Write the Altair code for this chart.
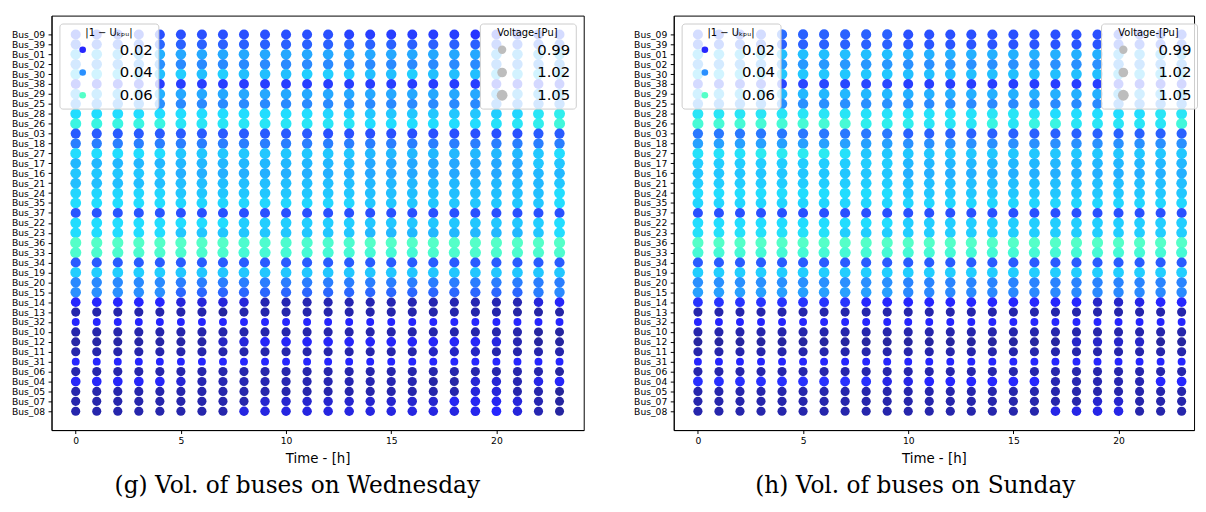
import altair as alt
import pandas as pd

buses = ["Bus_09", "Bus_39", "Bus_01", "Bus_02", "Bus_30", "Bus_38", "Bus_29", "Bus_25", "Bus_28", "Bus_26",
         "Bus_03", "Bus_18", "Bus_27", "Bus_17", "Bus_16", "Bus_21", "Bus_24", "Bus_35", "Bus_37", "Bus_22",
         "Bus_23", "Bus_36", "Bus_33", "Bus_34", "Bus_19", "Bus_20", "Bus_15", "Bus_14", "Bus_13", "Bus_32",
         "Bus_10", "Bus_12", "Bus_11", "Bus_31", "Bus_06", "Bus_04", "Bus_05", "Bus_07", "Bus_08"]
hours = [0, 1, 2, 3, 4, 5, 6, 7, 8, 9, 10, 11, 12, 13, 14, 15, 16, 17, 18, 19, 20, 21, 22, 23]

# Bus voltages [pu], one row per bus (order of `buses`), one value per hour
wednesday = [
    [1.028, 1.028, 1.028, 1.028, 1.029, 1.029, 1.029, 1.029, 1.029, 1.029, 1.029, 1.029, 1.029, 1.026, 1.025, 1.025, 1.025, 1.025, 1.025, 1.023, 1.026, 1.027, 1.028, 1.028],  # 09
    [1.033, 1.033, 1.033, 1.033, 1.033, 1.032, 1.032, 1.032, 1.032, 1.032, 1.032, 1.032, 1.032, 1.032, 1.032, 1.032, 1.032, 1.032, 1.032, 1.032, 1.032, 1.032, 1.033, 1.033],  # 39
    [1.045, 1.045, 1.044, 1.044, 1.044, 1.043, 1.043, 1.043, 1.043, 1.043, 1.043, 1.043, 1.043, 1.043, 1.043, 1.043, 1.043, 1.043, 1.043, 1.043, 1.043, 1.043, 1.044, 1.045],  # 01
    [1.040, 1.040, 1.040, 1.040, 1.040, 1.039, 1.039, 1.039, 1.039, 1.039, 1.039, 1.039, 1.039, 1.039, 1.039, 1.039, 1.039, 1.039, 1.039, 1.039, 1.039, 1.039, 1.039, 1.040],  # 02
    [1.047, 1.047, 1.047, 1.047, 1.046, 1.048, 1.046, 1.048, 1.046, 1.046, 1.046, 1.048, 1.048, 1.048, 1.046, 1.046, 1.048, 1.046, 1.046, 1.046, 1.046, 1.046, 1.047, 1.047],  # 30
    [1.025, 1.025, 1.025, 1.025, 1.025, 1.025, 1.025, 1.025, 1.025, 1.025, 1.025, 1.025, 1.025, 1.025, 1.025, 1.025, 1.025, 1.025, 1.025, 1.025, 1.025, 1.025, 1.025, 1.025],  # 38
    [1.044, 1.044, 1.044, 1.044, 1.044, 1.043, 1.043, 1.043, 1.043, 1.043, 1.043, 1.043, 1.043, 1.043, 1.043, 1.043, 1.043, 1.043, 1.043, 1.043, 1.043, 1.043, 1.043, 1.043],  # 29
    [1.040, 1.040, 1.040, 1.040, 1.040, 1.039, 1.039, 1.039, 1.039, 1.039, 1.039, 1.039, 1.039, 1.039, 1.039, 1.039, 1.039, 1.039, 1.039, 1.039, 1.039, 1.039, 1.039, 1.039],  # 25
    [1.050, 1.050, 1.050, 1.050, 1.050, 1.050, 1.050, 1.050, 1.050, 1.050, 1.050, 1.050, 1.049, 1.048, 1.047, 1.047, 1.047, 1.047, 1.047, 1.047, 1.048, 1.049, 1.052, 1.054],  # 28
    [1.056, 1.056, 1.056, 1.056, 1.056, 1.052, 1.052, 1.052, 1.052, 1.052, 1.052, 1.052, 1.052, 1.052, 1.050, 1.050, 1.050, 1.050, 1.050, 1.050, 1.051, 1.052, 1.054, 1.057],  # 26
    [1.031, 1.031, 1.031, 1.031, 1.031, 1.031, 1.031, 1.031, 1.031, 1.031, 1.031, 1.031, 1.029, 1.029, 1.029, 1.029, 1.029, 1.029, 1.029, 1.029, 1.029, 1.029, 1.031, 1.031],  # 03
    [1.037, 1.037, 1.037, 1.037, 1.037, 1.037, 1.037, 1.037, 1.037, 1.037, 1.037, 1.037, 1.037, 1.037, 1.037, 1.037, 1.037, 1.037, 1.037, 1.037, 1.037, 1.037, 1.037, 1.037],  # 18
    [1.050, 1.050, 1.050, 1.050, 1.050, 1.047, 1.047, 1.047, 1.047, 1.047, 1.047, 1.047, 1.047, 1.047, 1.045, 1.045, 1.045, 1.045, 1.045, 1.045, 1.045, 1.045, 1.047, 1.050],  # 27
    [1.045, 1.045, 1.045, 1.045, 1.045, 1.045, 1.045, 1.045, 1.045, 1.045, 1.045, 1.045, 1.045, 1.045, 1.043, 1.043, 1.043, 1.043, 1.043, 1.043, 1.043, 1.043, 1.047, 1.047],  # 17
    [1.047, 1.047, 1.047, 1.047, 1.047, 1.044, 1.044, 1.044, 1.044, 1.044, 1.044, 1.044, 1.044, 1.044, 1.043, 1.043, 1.043, 1.043, 1.043, 1.043, 1.043, 1.043, 1.045, 1.045],  # 16
    [1.046, 1.046, 1.046, 1.046, 1.046, 1.046, 1.046, 1.046, 1.046, 1.046, 1.046, 1.046, 1.046, 1.046, 1.045, 1.045, 1.045, 1.045, 1.045, 1.045, 1.045, 1.045, 1.045, 1.047],  # 21
    [1.049, 1.049, 1.049, 1.049, 1.049, 1.047, 1.047, 1.047, 1.047, 1.047, 1.047, 1.047, 1.047, 1.047, 1.046, 1.046, 1.046, 1.046, 1.046, 1.046, 1.046, 1.046, 1.046, 1.050],  # 24
    [1.050, 1.050, 1.050, 1.050, 1.050, 1.049, 1.049, 1.049, 1.049, 1.049, 1.049, 1.049, 1.049, 1.049, 1.047, 1.047, 1.047, 1.047, 1.047, 1.047, 1.047, 1.047, 1.047, 1.050],  # 35
    [1.030, 1.030, 1.030, 1.030, 1.030, 1.029, 1.029, 1.029, 1.029, 1.029, 1.029, 1.029, 1.029, 1.029, 1.029, 1.029, 1.029, 1.029, 1.029, 1.029, 1.029, 1.029, 1.029, 1.029],  # 37
    [1.050, 1.050, 1.050, 1.050, 1.050, 1.050, 1.050, 1.050, 1.048, 1.048, 1.048, 1.048, 1.048, 1.048, 1.047, 1.047, 1.047, 1.047, 1.047, 1.047, 1.047, 1.047, 1.048, 1.050],  # 22
    [1.050, 1.050, 1.050, 1.050, 1.050, 1.047, 1.047, 1.047, 1.047, 1.047, 1.047, 1.047, 1.047, 1.047, 1.045, 1.045, 1.045, 1.045, 1.045, 1.045, 1.045, 1.045, 1.047, 1.050],  # 23
    [1.060, 1.060, 1.060, 1.060, 1.060, 1.060, 1.060, 1.060, 1.059, 1.059, 1.059, 1.059, 1.059, 1.059, 1.060, 1.060, 1.060, 1.060, 1.060, 1.060, 1.060, 1.060, 1.060, 1.060],  # 36
    [1.059, 1.059, 1.059, 1.059, 1.059, 1.059, 1.059, 1.059, 1.058, 1.058, 1.058, 1.058, 1.058, 1.058, 1.058, 1.058, 1.058, 1.059, 1.059, 1.059, 1.059, 1.059, 1.059, 1.059],  # 33
    [1.031, 1.031, 1.031, 1.031, 1.031, 1.031, 1.031, 1.031, 1.031, 1.031, 1.031, 1.031, 1.031, 1.031, 1.031, 1.031, 1.031, 1.031, 1.031, 1.031, 1.031, 1.031, 1.031, 1.031],  # 34
    [1.048, 1.048, 1.048, 1.048, 1.048, 1.047, 1.047, 1.047, 1.047, 1.047, 1.047, 1.047, 1.047, 1.047, 1.047, 1.047, 1.047, 1.047, 1.047, 1.047, 1.047, 1.047, 1.047, 1.047],  # 19
    [1.039, 1.039, 1.039, 1.039, 1.039, 1.037, 1.037, 1.037, 1.037, 1.037, 1.037, 1.037, 1.037, 1.037, 1.037, 1.037, 1.037, 1.037, 1.037, 1.037, 1.037, 1.037, 1.037, 1.037],  # 20
    [1.040, 1.040, 1.040, 1.040, 1.040, 1.033, 1.033, 1.033, 1.033, 1.033, 1.033, 1.033, 1.033, 1.033, 1.033, 1.033, 1.033, 1.033, 1.033, 1.033, 1.033, 1.033, 1.037, 1.039],  # 15
    [1.020, 1.020, 1.020, 1.020, 1.020, 1.014, 1.014, 1.014, 1.014, 1.007, 1.007, 1.007, 1.007, 1.007, 1.007, 1.007, 1.007, 1.007, 1.007, 1.007, 1.007, 1.007, 1.014, 1.019],  # 14
    [1.006, 1.006, 1.006, 1.006, 1.006, 1.006, 1.006, 1.004, 1.006, 1.006, 1.006, 1.006, 1.006, 1.006, 1.006, 1.006, 1.006, 1.006, 1.006, 1.006, 1.006, 1.005, 1.005, 1.005],  # 13
    [0.980, 0.980, 0.980, 0.980, 0.980, 0.980, 0.980, 0.980, 0.980, 0.980, 0.980, 0.980, 0.980, 0.980, 0.980, 0.980, 0.980, 0.980, 0.980, 0.980, 0.980, 0.980, 0.980, 0.980],  # 32
    [1.006, 1.006, 1.006, 1.006, 1.006, 1.006, 1.006, 1.006, 1.006, 1.006, 1.006, 1.006, 1.006, 1.006, 1.006, 1.006, 1.006, 1.006, 1.006, 1.006, 1.006, 1.006, 1.004, 1.004],  # 10
    [1.005, 1.005, 1.005, 1.005, 1.005, 1.005, 1.005, 1.010, 1.014, 1.019, 1.019, 1.019, 1.019, 1.019, 1.019, 1.019, 1.019, 1.019, 1.019, 1.019, 1.015, 1.007, 1.004, 1.004],  # 12
    [1.006, 1.006, 1.006, 1.006, 1.006, 1.006, 1.006, 1.006, 1.006, 1.006, 1.006, 1.006, 1.006, 1.006, 1.006, 1.006, 1.006, 1.010, 1.010, 1.010, 1.006, 1.006, 1.006, 1.006],  # 11
    [0.980, 0.980, 0.980, 0.980, 0.980, 0.980, 0.980, 0.980, 0.980, 0.980, 0.980, 0.980, 0.980, 0.980, 0.980, 0.980, 0.980, 0.980, 0.980, 0.980, 0.980, 0.980, 0.980, 0.980],  # 31
    [1.006, 1.006, 1.006, 1.006, 1.006, 1.006, 1.006, 1.006, 1.006, 1.006, 1.006, 1.006, 1.006, 1.006, 1.006, 1.006, 1.006, 1.006, 1.006, 1.006, 1.006, 1.006, 1.006, 1.004],  # 06
    [1.019, 1.019, 1.019, 1.019, 1.019, 1.013, 1.007, 1.007, 1.007, 1.007, 1.007, 1.007, 1.007, 1.007, 1.007, 1.007, 1.007, 1.005, 1.005, 1.013, 1.013, 1.007, 1.016, 1.019],  # 04
    [1.006, 1.006, 1.006, 1.006, 1.006, 1.006, 1.006, 1.006, 1.006, 1.006, 1.006, 1.006, 1.006, 1.006, 1.006, 1.006, 1.006, 1.006, 1.006, 1.014, 1.014, 1.006, 1.006, 1.003],  # 05
    [1.006, 1.006, 1.006, 1.006, 1.006, 1.006, 1.006, 1.006, 1.006, 1.012, 1.012, 1.012, 1.012, 1.012, 1.012, 1.012, 1.012, 1.012, 1.018, 1.018, 1.018, 1.014, 1.007, 1.004],  # 07
    [1.006, 1.006, 1.006, 1.006, 1.006, 1.006, 1.006, 1.006, 1.015, 1.015, 1.015, 1.015, 1.015, 1.015, 1.015, 1.015, 1.015, 1.015, 1.015, 1.017, 1.020, 1.014, 1.007, 1.004],  # 08
]

sunday = [
    [1.030, 1.030, 1.030, 1.030, 1.034, 1.032, 1.032, 1.032, 1.032, 1.032, 1.029, 1.029, 1.029, 1.029, 1.029, 1.029, 1.029, 1.029, 1.029, 1.029, 1.029, 1.029, 1.029, 1.029],  # 09
    [1.032, 1.032, 1.032, 1.032, 1.032, 1.032, 1.032, 1.032, 1.032, 1.032, 1.030, 1.030, 1.030, 1.030, 1.030, 1.030, 1.030, 1.030, 1.030, 1.030, 1.030, 1.030, 1.030, 1.030],  # 39
    [1.046, 1.046, 1.046, 1.046, 1.046, 1.046, 1.046, 1.046, 1.046, 1.046, 1.044, 1.044, 1.044, 1.044, 1.044, 1.044, 1.044, 1.044, 1.044, 1.044, 1.044, 1.044, 1.044, 1.044],  # 01
    [1.041, 1.041, 1.041, 1.041, 1.041, 1.041, 1.041, 1.041, 1.041, 1.041, 1.040, 1.040, 1.040, 1.040, 1.040, 1.040, 1.040, 1.040, 1.040, 1.040, 1.040, 1.040, 1.040, 1.040],  # 02
    [1.047, 1.047, 1.047, 1.047, 1.047, 1.047, 1.047, 1.047, 1.047, 1.047, 1.046, 1.046, 1.046, 1.046, 1.046, 1.046, 1.046, 1.046, 1.046, 1.046, 1.046, 1.046, 1.046, 1.046],  # 30
    [1.027, 1.027, 1.027, 1.027, 1.027, 1.027, 1.027, 1.027, 1.027, 1.027, 1.025, 1.025, 1.025, 1.025, 1.025, 1.025, 1.025, 1.025, 1.025, 1.025, 1.025, 1.025, 1.025, 1.025],  # 38
    [1.045, 1.045, 1.045, 1.045, 1.045, 1.045, 1.045, 1.045, 1.045, 1.045, 1.044, 1.044, 1.044, 1.044, 1.044, 1.044, 1.044, 1.044, 1.044, 1.044, 1.044, 1.044, 1.044, 1.044],  # 29
    [1.040, 1.040, 1.040, 1.040, 1.040, 1.040, 1.040, 1.040, 1.040, 1.040, 1.039, 1.039, 1.039, 1.039, 1.039, 1.039, 1.039, 1.039, 1.039, 1.039, 1.039, 1.039, 1.039, 1.039],  # 25
    [1.052, 1.052, 1.052, 1.052, 1.052, 1.052, 1.052, 1.052, 1.051, 1.051, 1.051, 1.051, 1.051, 1.051, 1.052, 1.052, 1.052, 1.050, 1.050, 1.050, 1.050, 1.050, 1.052, 1.052],  # 28
    [1.058, 1.058, 1.058, 1.058, 1.058, 1.058, 1.058, 1.058, 1.054, 1.054, 1.054, 1.052, 1.052, 1.052, 1.056, 1.052, 1.056, 1.056, 1.052, 1.052, 1.052, 1.052, 1.052, 1.057],  # 26
    [1.036, 1.036, 1.036, 1.036, 1.036, 1.036, 1.036, 1.036, 1.036, 1.036, 1.032, 1.032, 1.032, 1.032, 1.032, 1.032, 1.032, 1.032, 1.032, 1.032, 1.032, 1.032, 1.032, 1.032],  # 03
    [1.042, 1.042, 1.042, 1.042, 1.042, 1.042, 1.042, 1.042, 1.042, 1.042, 1.040, 1.040, 1.040, 1.040, 1.040, 1.040, 1.040, 1.040, 1.040, 1.040, 1.040, 1.040, 1.040, 1.040],  # 18
    [1.051, 1.051, 1.051, 1.053, 1.053, 1.053, 1.053, 1.051, 1.047, 1.047, 1.047, 1.047, 1.047, 1.047, 1.047, 1.047, 1.047, 1.047, 1.047, 1.047, 1.047, 1.047, 1.047, 1.047],  # 27
    [1.048, 1.048, 1.048, 1.048, 1.048, 1.048, 1.048, 1.048, 1.048, 1.048, 1.045, 1.045, 1.045, 1.045, 1.045, 1.045, 1.045, 1.045, 1.045, 1.045, 1.045, 1.045, 1.045, 1.045],  # 17
    [1.047, 1.047, 1.047, 1.047, 1.047, 1.047, 1.047, 1.047, 1.047, 1.047, 1.044, 1.044, 1.044, 1.044, 1.044, 1.044, 1.044, 1.044, 1.044, 1.044, 1.044, 1.044, 1.044, 1.044],  # 16
    [1.048, 1.048, 1.048, 1.048, 1.048, 1.048, 1.048, 1.048, 1.048, 1.048, 1.046, 1.046, 1.046, 1.046, 1.046, 1.046, 1.046, 1.046, 1.046, 1.046, 1.046, 1.046, 1.046, 1.046],  # 21
    [1.050, 1.050, 1.050, 1.050, 1.050, 1.050, 1.050, 1.050, 1.050, 1.050, 1.047, 1.047, 1.047, 1.047, 1.047, 1.047, 1.047, 1.047, 1.047, 1.047, 1.047, 1.047, 1.047, 1.047],  # 24
    [1.049, 1.049, 1.049, 1.049, 1.049, 1.049, 1.049, 1.049, 1.049, 1.049, 1.049, 1.049, 1.049, 1.049, 1.049, 1.049, 1.049, 1.049, 1.049, 1.049, 1.049, 1.049, 1.049, 1.049],  # 35
    [1.029, 1.029, 1.029, 1.029, 1.029, 1.029, 1.029, 1.029, 1.029, 1.029, 1.029, 1.029, 1.029, 1.029, 1.029, 1.029, 1.029, 1.029, 1.029, 1.029, 1.029, 1.029, 1.029, 1.029],  # 37
    [1.050, 1.050, 1.050, 1.050, 1.050, 1.050, 1.050, 1.050, 1.050, 1.050, 1.048, 1.048, 1.048, 1.048, 1.048, 1.048, 1.048, 1.048, 1.048, 1.048, 1.048, 1.048, 1.048, 1.048],  # 22
    [1.051, 1.051, 1.051, 1.051, 1.051, 1.051, 1.051, 1.048, 1.048, 1.048, 1.048, 1.048, 1.048, 1.048, 1.048, 1.048, 1.048, 1.048, 1.048, 1.048, 1.048, 1.048, 1.048, 1.048],  # 23
    [1.060, 1.060, 1.060, 1.060, 1.060, 1.060, 1.060, 1.060, 1.060, 1.060, 1.060, 1.060, 1.060, 1.060, 1.060, 1.060, 1.060, 1.060, 1.060, 1.060, 1.060, 1.060, 1.060, 1.060],  # 36
    [1.058, 1.058, 1.058, 1.058, 1.058, 1.058, 1.058, 1.058, 1.058, 1.058, 1.058, 1.058, 1.058, 1.058, 1.058, 1.058, 1.058, 1.058, 1.058, 1.058, 1.058, 1.058, 1.058, 1.058],  # 33
    [1.031, 1.031, 1.031, 1.031, 1.031, 1.031, 1.031, 1.031, 1.031, 1.031, 1.031, 1.031, 1.031, 1.031, 1.031, 1.031, 1.031, 1.031, 1.031, 1.031, 1.031, 1.031, 1.031, 1.031],  # 34
    [1.048, 1.048, 1.048, 1.048, 1.048, 1.048, 1.048, 1.048, 1.048, 1.048, 1.048, 1.048, 1.048, 1.048, 1.048, 1.048, 1.048, 1.048, 1.048, 1.048, 1.048, 1.048, 1.048, 1.048],  # 19
    [1.040, 1.040, 1.040, 1.040, 1.040, 1.040, 1.040, 1.040, 1.040, 1.040, 1.038, 1.038, 1.038, 1.038, 1.038, 1.038, 1.038, 1.038, 1.038, 1.038, 1.038, 1.038, 1.038, 1.038],  # 20
    [1.042, 1.042, 1.042, 1.042, 1.042, 1.042, 1.042, 1.042, 1.042, 1.042, 1.039, 1.039, 1.039, 1.039, 1.039, 1.039, 1.039, 1.039, 1.039, 1.039, 1.039, 1.039, 1.039, 1.039],  # 15
    [1.023, 1.023, 1.023, 1.023, 1.023, 1.023, 1.023, 1.023, 1.020, 1.020, 1.020, 1.020, 1.020, 1.020, 1.020, 1.020, 1.020, 1.020, 1.020, 1.011, 1.011, 1.016, 1.020, 1.020],  # 14
    [1.006, 1.006, 1.006, 1.006, 1.006, 1.006, 1.006, 1.006, 1.006, 1.006, 1.006, 1.006, 1.006, 1.006, 1.006, 1.006, 1.006, 1.006, 1.006, 1.006, 1.006, 1.006, 1.006, 1.006],  # 13
    [0.980, 0.980, 0.980, 0.980, 0.980, 0.980, 0.980, 0.980, 0.980, 0.980, 0.980, 0.980, 0.980, 0.980, 0.980, 0.980, 0.980, 0.980, 0.980, 0.980, 0.980, 0.980, 0.980, 0.980],  # 32
    [1.006, 1.006, 1.006, 1.006, 1.006, 1.006, 1.006, 1.006, 1.006, 1.006, 1.006, 1.006, 1.006, 1.006, 1.006, 1.006, 1.006, 1.006, 1.006, 1.006, 1.006, 1.006, 1.006, 1.006],  # 10
    [1.004, 1.004, 1.004, 1.004, 1.004, 1.004, 1.004, 1.004, 1.004, 1.004, 1.004, 1.004, 1.004, 1.004, 1.004, 1.004, 1.004, 1.004, 1.011, 1.011, 1.011, 1.011, 1.004, 1.004],  # 12
    [1.006, 1.006, 1.006, 1.006, 1.006, 1.006, 1.006, 1.006, 1.006, 1.006, 1.006, 1.006, 1.006, 1.006, 1.006, 1.006, 1.006, 1.006, 1.006, 1.006, 1.006, 1.006, 1.006, 1.006],  # 11
    [0.980, 0.980, 0.980, 0.980, 0.980, 0.980, 0.980, 0.980, 0.980, 0.980, 0.980, 0.980, 0.980, 0.980, 0.980, 0.980, 0.980, 0.980, 0.980, 0.980, 0.980, 0.980, 0.980, 0.980],  # 31
    [1.006, 1.006, 1.006, 1.006, 1.006, 1.006, 1.006, 1.006, 1.006, 1.006, 1.006, 1.006, 1.006, 1.006, 1.006, 1.006, 1.006, 1.006, 1.006, 1.006, 1.006, 1.006, 1.006, 1.006],  # 06
    [1.022, 1.022, 1.022, 1.022, 1.022, 1.022, 1.022, 1.022, 1.022, 1.016, 1.016, 1.020, 1.020, 1.020, 1.020, 1.020, 1.020, 1.007, 1.007, 1.007, 1.007, 1.007, 1.020, 1.020],  # 04
    [1.006, 1.006, 1.006, 1.006, 1.006, 1.006, 1.006, 1.006, 1.006, 1.006, 1.006, 1.006, 1.006, 1.006, 1.006, 1.006, 1.006, 1.006, 1.006, 1.006, 1.006, 1.006, 1.006, 1.006],  # 05
    [1.006, 1.006, 1.006, 1.006, 1.006, 1.006, 1.006, 1.006, 1.006, 1.006, 1.006, 1.006, 1.006, 1.006, 1.006, 1.006, 1.006, 1.006, 1.006, 1.012, 1.012, 1.006, 1.006, 1.006],  # 07
    [1.006, 1.006, 1.006, 1.006, 1.006, 1.006, 1.006, 1.006, 1.006, 1.006, 1.006, 1.006, 1.006, 1.006, 1.006, 1.006, 1.006, 1.016, 1.016, 1.016, 1.016, 1.006, 1.006, 1.006],  # 08
]

x_ticks = [0, 5, 10, 15, 20]
dev_legend_values = [0.02, 0.04, 0.06]
volt_legend_values = [0.99, 1.02, 1.05]
dev_stops = [0.0, 0.02, 0.03, 0.04, 0.045, 0.05, 0.055, 0.06]
dev_colors = ["#262688", "#2626ff", "#2a55ff", "#2a90ff", "#22b8ff", "#22ddff", "#33f2e8", "#55ffc8"]

assert len(wednesday) == len(buses) and len(sunday) == len(buses)
assert all(len(r) == 24 for r in wednesday + sunday)

bus_label_expr = "[" + ",".join("'%s'" % b for b in buses) + "][datum.value]"
row_ticks = list(range(len(buses)))


def make_frame(rows):
    recs = []
    for i, (bus, row) in enumerate(zip(buses, rows)):
        for h, v in zip(hours, row):
            recs.append({"Bus": bus, "Row": i, "Hour": h, "Voltage": v, "Dev": round(abs(1 - v), 4)})
    return pd.DataFrame(recs)


legend_box = dict(
    fillColor="rgba(255,255,255,0.8)", strokeColor="#cccccc", cornerRadius=3,
    padding=5, titleFontSize=10, titleFontWeight="normal", titleAnchor="middle",
    titleFont="DejaVu Sans", titleColor="black", titlePadding=4,
    labelFont="DejaVu Sans", labelFontSize=15, labelColor="black",
    rowPadding=7, format=".2f", zindex=1, direction="vertical",
)


def panel(rows, caption, x_max, width, size_legend_pos):
    df = make_frame(rows)
    return alt.Chart(df, title=alt.TitleParams(
        caption, orient="bottom", anchor="middle", frame="bounds", font="DejaVu Serif",
        fontSize=23.5, fontWeight="normal", color="black", offset=9.5,
    )).mark_circle(opacity=1).encode(
        x=alt.X("Hour:Q", scale=alt.Scale(domain=[-1.15, x_max], nice=False, zero=False),
                axis=alt.Axis(values=x_ticks, title="Time - [h]", grid=False,
                              titleFontSize=13.5, labelPadding=3, titlePadding=6)),
        y=alt.Y("Row:Q", scale=alt.Scale(domain=[-1.9, len(buses) - 1 + 1.9], reverse=True,
                                         nice=False, zero=False),
                axis=alt.Axis(title=" ", titleX=-41, titleY=0, titleAngle=0, titleAlign="left",
                              titleBaseline="top", titleFontSize=2, grid=False,
                              values=row_ticks, labelExpr=bus_label_expr, labelPadding=3.5)),
        color=alt.Color("Dev:Q",
                        scale=alt.Scale(domain=dev_stops, range=dev_colors, interpolate="rgb", clamp=True),
                        legend=alt.Legend(type="symbol", title="|1 − Uₖₚᵤ|", values=dev_legend_values,
                                          orient="top-left", offset=8, symbolSize=45, symbolType="circle",
                                          symbolStrokeWidth=0, symbolOffset=11, labelOffset=30,
                                          **legend_box)),
        size=alt.Size("Voltage:Q",
                      scale=alt.Scale(domain=[0.98, 1.06], range=[64, 128], zero=False),
                      legend=alt.Legend(title="Voltage-[Pu]", values=volt_legend_values,
                                        symbolType="circle",
                                        symbolFillColor="#bdbdbd", symbolStrokeWidth=0,
                                        symbolOffset=10, labelOffset=28, **size_legend_pos,
                                        **legend_box)),
    ).properties(width=width, height=419)


left = panel(wednesday, "(g) Vol. of buses on Wednesday", 24.15, 538,
             dict(orient="top-right", offset=8))
right = panel(sunday, "(h) Vol. of buses on Sunday", 23.59, 526,
              dict(orient="none", legendX=432, legendY=8))

chart = alt.hconcat(left, right, spacing=48).resolve_scale(
    color="independent", size="independent", x="independent", y="independent"
).resolve_legend(color="independent", size="independent").properties(
    padding={"left": 2, "top": 4, "right": 0, "bottom": 0}
).configure_view(stroke="black", strokeWidth=1).configure_axis(
    domainColor="black", tickColor="black", labelColor="black", titleColor="black",
    labelFont="DejaVu Sans", titleFont="DejaVu Sans", labelFontSize=9.3,
    tickSize=3.5, titleFontWeight="normal",
)

chart.save("out.html", embed_options={"renderer": "svg", "actions": False})
